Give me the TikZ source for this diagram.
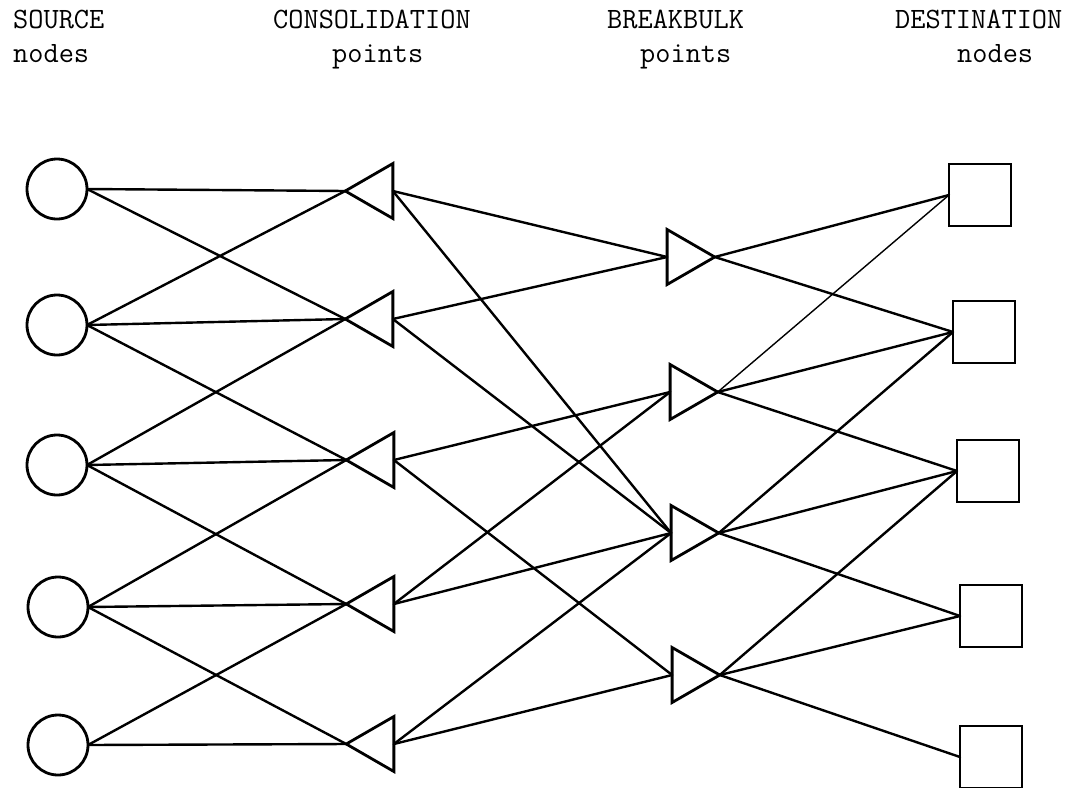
\documentclass[tikz,border=0pt]{standalone}
\usetikzlibrary{shapes.geometric}
\begin{document}
\begin{tikzpicture}[x=1pt,y=-1pt,
  link/.style={line width=2.4pt, line cap=round},
  thinlink/.style={line width=1.4pt, line cap=round},
  shapeline/.style={draw, line width=2.8pt, inner sep=0pt, outer sep=0pt},
  source/.style={shapeline, circle, minimum size=60pt},
  consol/.style={shapeline, regular polygon, regular polygon sides=3,
    shape border rotate=90, minimum size=63.5pt},
  bulk/.style={shapeline, regular polygon, regular polygon sides=3,
    shape border rotate=-90, minimum size=63.5pt},
  dest/.style={shapeline, rectangle, minimum size=62pt},
  head/.style={anchor=base west, inner sep=0pt,
    font=\ttfamily\fontsize{29.5}{34}\selectfont}
]
\useasboundingbox (0,0) rectangle (1083,787);

% column headings
\node[head] (h1a) at (13,28) {SOURCE};
\node[head] (h1b) at (13,62) {nodes};
\node[head] (h2a) at (273,28) {CONSOLIDATION};
\node[head] (h2b) at (332,62) {points};
\node[head] (h3a) at (607,28) {BREAKBULK};
\node[head] (h3b) at (640,62) {points};
\node[head] (h4a) at (895,28) {DESTINATION};
\node[head] (h4b) at (957,62) {nodes};

% source nodes
\node[source] (s1) at (57,189) {};
\node[source] (s2) at (57,325) {};
\node[source] (s3) at (57,465) {};
\node[source] (s4) at (58,607) {};
\node[source] (s5) at (58,745) {};

% consolidation points (pointing left)
\node[consol] (c1) at (377,191) {};
\node[consol] (c2) at (377,319) {};
\node[consol] (c3) at (378,460) {};
\node[consol] (c4) at (378,604) {};
\node[consol] (c5) at (378,744) {};

% breakbulk points (pointing right)
\node[bulk] (b1) at (683,257) {};
\node[bulk] (b2) at (686,392) {};
\node[bulk] (b3) at (687,533) {};
\node[bulk] (b4) at (688,675) {};

% destination nodes
\node[dest] (d1) at (980,195) {};
\node[dest] (d2) at (984,332) {};
\node[dest] (d3) at (988,471) {};
\node[dest] (d4) at (991,616) {};
\node[dest] (d5) at (991,757) {};

% source -> consolidation
\foreach \i in {1,...,5} \draw[link] (s\i.east) -- (c\i.corner 1);
\draw[link] (s1.east) -- (c2.corner 1);
\draw[link] (s2.east) -- (c1.corner 1);
\draw[link] (s2.east) -- (c3.corner 1);
\draw[link] (s3.east) -- (c2.corner 1);
\draw[link] (s3.east) -- (c4.corner 1);
\draw[link] (s4.east) -- (c3.corner 1);
\draw[link] (s4.east) -- (c5.corner 1);
\draw[link] (s5.east) -- (c4.corner 1);

% consolidation -> breakbulk
\draw[link] (c1.side 2) -- (b1.side 2);
\draw[link] (c1.side 2) -- (b3.side 2);
\draw[link] (c2.side 2) -- (b1.side 2);
\draw[link] (c2.side 2) -- (b3.side 2);
\draw[link] (c3.side 2) -- (b2.side 2);
\draw[link] (c3.side 2) -- (b4.side 2);
\draw[link] (c4.side 2) -- (b2.side 2);
\draw[link] (c4.side 2) -- (b3.side 2);
\draw[link] (c5.side 2) -- (b3.side 2);
\draw[link] (c5.side 2) -- (b4.side 2);

% breakbulk -> destination
\draw[link] (b1.corner 1) -- (d1.west);
\draw[link] (b1.corner 1) -- (d2.west);
\draw[thinlink] (b2.corner 1) -- (d1.west);
\draw[link] (b2.corner 1) -- (d2.west);
\draw[link] (b2.corner 1) -- (d3.west);
\draw[link] (b3.corner 1) -- (d2.west);
\draw[link] (b3.corner 1) -- (d3.west);
\draw[link] (b3.corner 1) -- (d4.west);
\draw[link] (b4.corner 1) -- (d3.west);
\draw[link] (b4.corner 1) -- (d4.west);
\draw[link] (b4.corner 1) -- (d5.west);
\end{tikzpicture}
\end{document}
